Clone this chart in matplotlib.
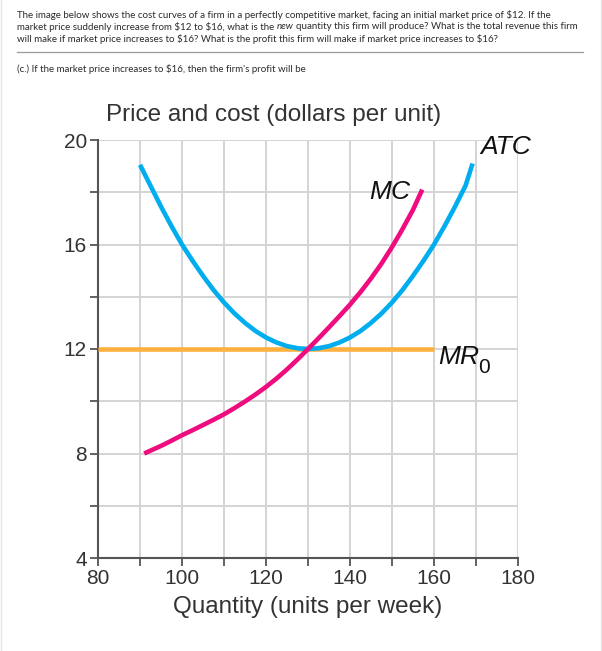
import matplotlib
matplotlib.use("Agg")
import matplotlib.pyplot as plt
from matplotlib.lines import Line2D

# 讀圖估計的曲線點 (每 2.5 單位讀一次)
atc_q = [90, 92.5, 95, 97.5, 100, 102.5, 105, 107.5, 110, 112.5, 115, 117.5, 120, 122.5, 125, 127.5,
         130, 132.5, 135, 137.5, 140, 142.5, 145, 147.5, 150, 152.5, 155, 157.5, 160, 162.5, 165, 167.5, 169.2]
atc_p = [19.05, 18.25, 17.45, 16.7, 16.0, 15.38, 14.8, 14.26, 13.78, 13.36, 13.0, 12.69, 12.44, 12.25, 12.11, 12.03,
         12.0, 12.03, 12.11, 12.25, 12.44, 12.69, 13.0, 13.36, 13.78, 14.26, 14.8, 15.38, 16.0, 16.7, 17.45, 18.25, 19.1]

mc_q = [91, 92.5, 95, 97.5, 100, 102.5, 105, 107.5, 110, 112.5, 115, 117.5, 120, 122.5, 125, 127.5,
        130, 132.5, 135, 137.5, 140, 142.5, 145, 147.5, 150, 152.5, 155, 157.2]
mc_p = [8.0, 8.11, 8.29, 8.49, 8.7, 8.89, 9.09, 9.29, 9.5, 9.74, 9.99, 10.26, 10.55, 10.87, 11.22, 11.6,
        12.0, 12.41, 12.83, 13.26, 13.7, 14.18, 14.7, 15.27, 15.9, 16.59, 17.33, 18.1]

mr_q = [80, 160]
mr_p = [12, 12]

x_ticks = [80, 90, 100, 110, 120, 130, 140, 150, 160, 170, 180]
x_labels = ["80", "", "100", "", "120", "", "140", "", "160", "", "180"]
y_ticks = [4, 6, 8, 10, 12, 14, 16, 18, 20]
y_labels = ["4", "", "8", "", "12", "", "16", "", "20"]

line1 = r"The image below shows the cost curves of a firm in a perfectly competitive market, facing an initial market price of \$12. If the"
line2a = r"market price suddenly increase from \$12 to \$16, what is the"
line2b = "new"
line2c = "quantity this firm will produce? What is the total revenue this firm"
line3 = r"will make if market price increases to \$16? What is the profit this firm will make if market price increases to \$16?"
part_c = r"(c.) If the market price increases to \$16, then the firm's profit will be"

W, H = 602, 651
fig = plt.figure(figsize=(W / 100, H / 100), dpi=100)
r = fig.canvas.get_renderer()

def px(x, y):
    return x / W, 1 - y / H

def width(t):
    return t.get_window_extent(r).width

# ── 題目文字 ─────────────────────────────────────────────
hdr = dict(family=["Liberation Sans Narrow", "Lato"], color="#2b2b2b", va="center", ha="left")
fs = 8.0
t2a = fig.text(*px(17, 26.5), line2a, fontsize=fs, **hdr)
t2b = fig.text(0, 0, line2b, fontsize=fs, style="italic", **hdr)
t2c = fig.text(0, 0, line2c, fontsize=fs, **hdr)
sp = fig.text(0, 0, "a a", fontsize=fs, **hdr)
sp0 = fig.text(0, 0, "aa", fontsize=fs, **hdr)
total = width(t2a) + width(t2b) + width(t2c) + 2 * (width(sp) - width(sp0))
fs = fs * 565 / total
for t in (t2a, t2b, t2c, sp, sp0):
    t.set_fontsize(fs)
space = width(sp) - width(sp0)
sp.remove()
sp0.remove()
x = 17 + width(t2a) + space
t2b.set_position(px(x, 26.5))
x += width(t2b) + space
t2c.set_position(px(x, 26.5))

fig.text(*px(17, 14.5), line1, fontsize=fs, **hdr)
fig.text(*px(17, 38.5), line3, fontsize=fs, **hdr)
fig.add_artist(Line2D([17 / W, 583 / W], [1 - 52 / H] * 2, color="#9a9a9a", lw=0.9))
fig.text(*px(17, 69), part_c, fontsize=fs, **hdr)
for xb in [0.5, 600.5]:
    fig.add_artist(Line2D([xb / W, xb / W], [0, 1], color="#e4e4e4", lw=1))

# ── 圖表 ─────────────────────────────────────────────────
ax = fig.add_axes([98 / W, 93 / H, 420 / W, 418 / H])
ax.set_xlim(80, 180)
ax.set_ylim(4, 20)

ax.set_xticks(x_ticks)
ax.set_xticklabels(x_labels)
ax.set_yticks(y_ticks)
ax.set_yticklabels(y_labels)
ax.grid(True, color="#d4d4d4", lw=1.4)
ax.set_axisbelow(True)

for s in ["top", "right"]:
    ax.spines[s].set_visible(False)
for s in ["left", "bottom"]:
    ax.spines[s].set_color("#555555")
    ax.spines[s].set_linewidth(1.5)
ax.tick_params(direction="out", length=6, width=1.3, color="#555555",
               labelsize=15, labelcolor="#333333", pad=2)
for lbl in ax.get_xticklabels() + ax.get_yticklabels():
    lbl.set_family("Liberation Sans")

ax.plot(mr_q, mr_p, color="#FDB040", lw=3.3, solid_capstyle="butt", zorder=3)
ax.plot(atc_q, atc_p, color="#00AEEF", lw=3.3, solid_capstyle="butt", zorder=4)
ax.plot(mc_q, mc_p, color="#EE0C7E", lw=3.3, solid_capstyle="butt", zorder=5)

lab = dict(fontsize=19, family="Liberation Sans", style="italic", color="#111111", va="center")
ax.text(170.95, 19.73, "ATC", ha="left", **lab)
ax.text(154.3, 18.01, "MC", ha="right", **lab)
ax.text(160.95, 11.69, "MR", ha="left", **lab)
ax.text(170.4, 11.31, "0", ha="left", fontsize=15, family="Liberation Sans",
        color="#111111", va="center")

ax.text(121.9, 20.96, "Price and cost (dollars per unit)", ha="center", va="center",
        fontsize=17.5, family="Liberation Sans", color="#333333", clip_on=False)
ax.text(129.9, 2.12, "Quantity (units per week)", ha="center", va="center",
        fontsize=17.5, family="Liberation Sans", color="#333333", clip_on=False)

fig.savefig("out.png", dpi=100, facecolor="white")
